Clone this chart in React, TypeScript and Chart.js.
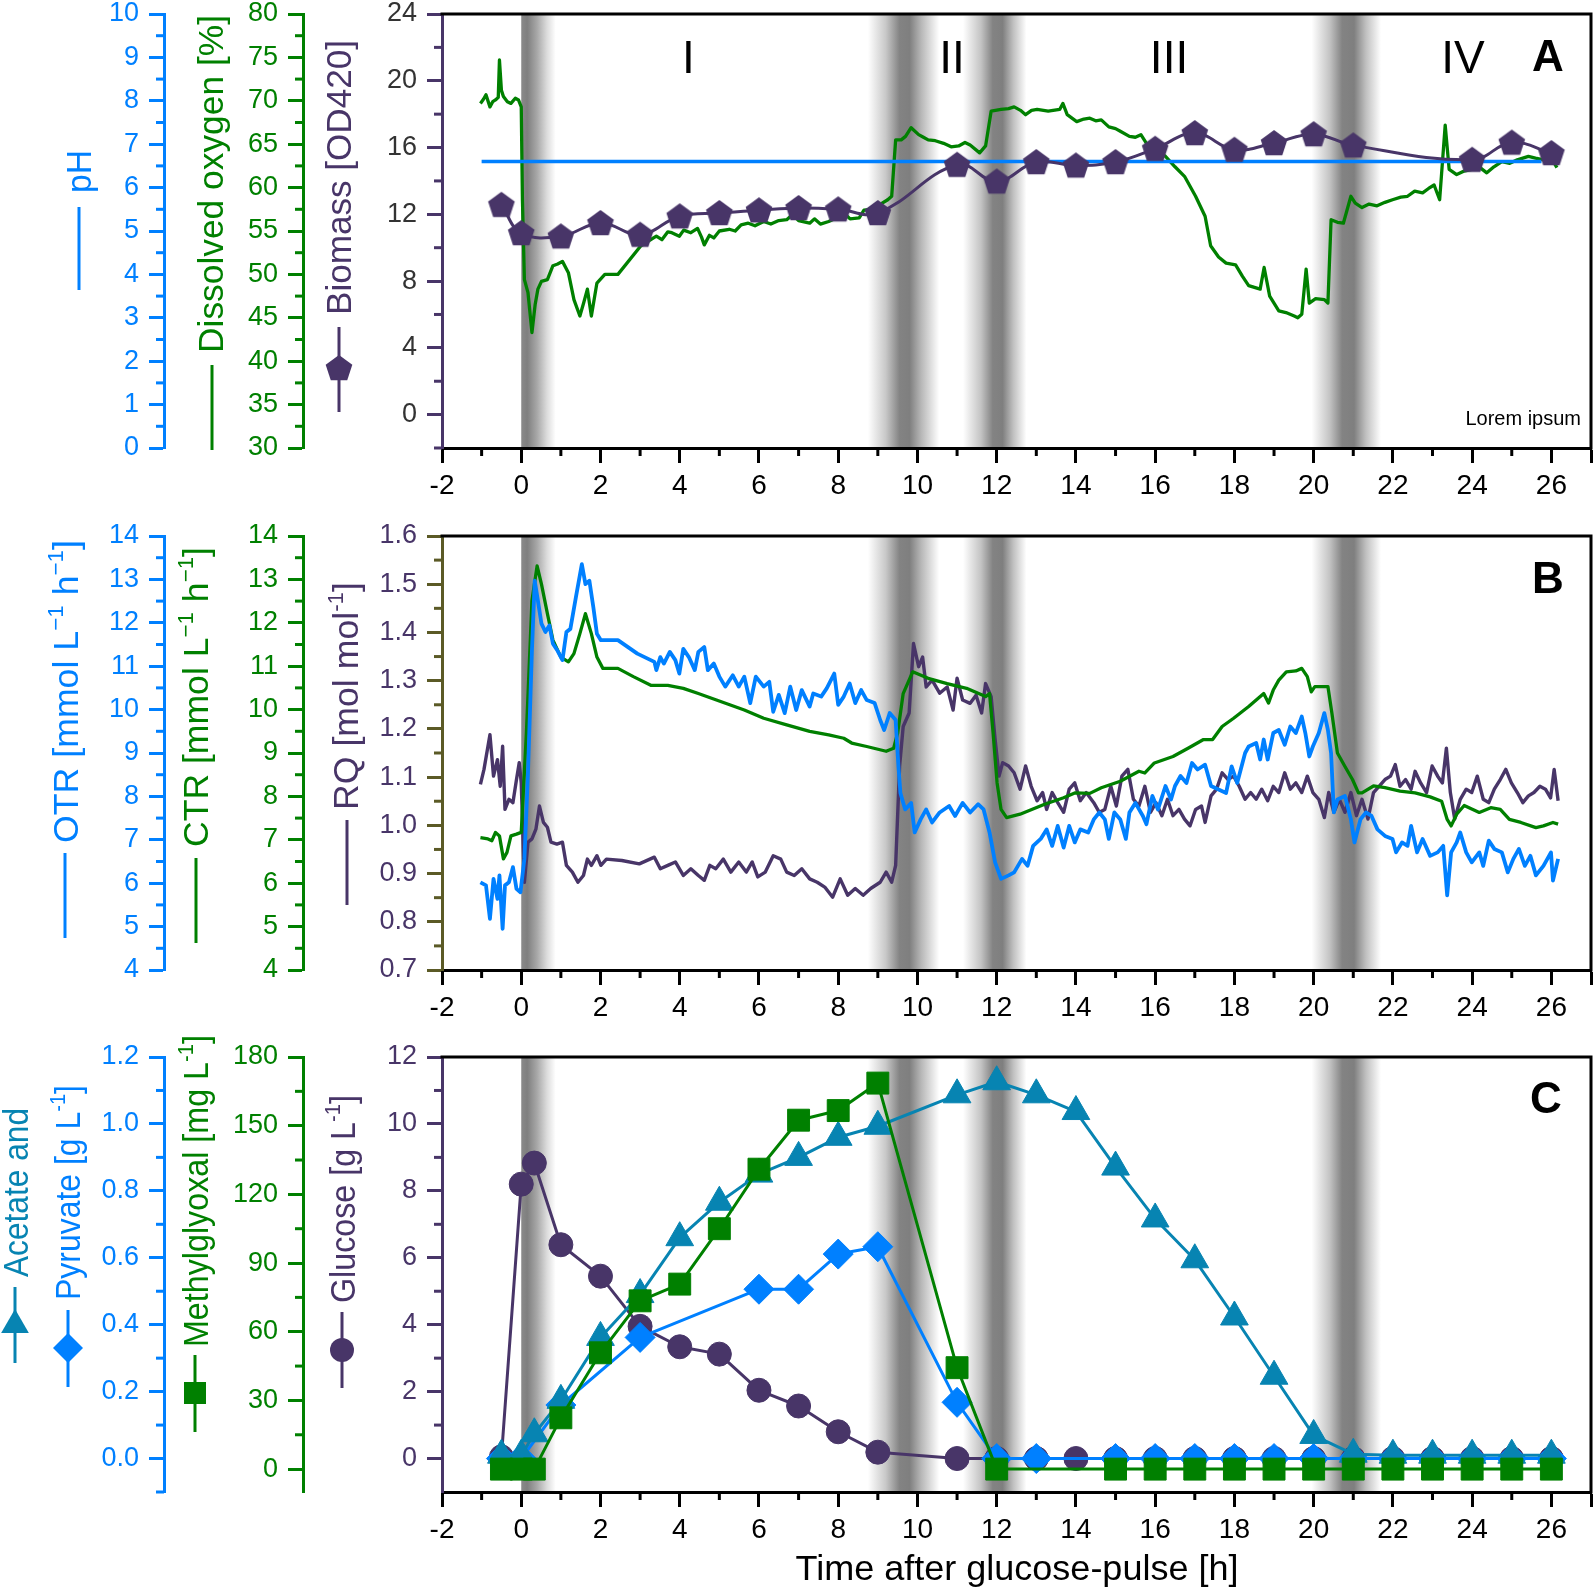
import React, { useEffect, useRef } from 'react';
import { Chart, registerables } from 'chart.js';

Chart.register(...registerables);

const FONT = '"Liberation Sans", Arial, Helvetica, sans-serif';
const BLUE = '#0080ff';
const GREEN = '#008000';
const PURPLE = '#483568';
const TEAL = '#0784b2';
const OLIVE = '#5b5a26';
const DARK = '#333333';

// ---------------- axis ticks ----------------
const timeTicks = [-2, 0, 2, 4, 6, 8, 10, 12, 14, 16, 18, 20, 22, 24, 26, 27];
const timeMinor = [-1, 1, 3, 5, 7, 9, 11, 13, 15, 17, 19, 21, 23, 25];

const phTicks = [0, 1, 2, 3, 4, 5, 6, 7, 8, 9, 10];
const phMinor = [0.5, 1.5, 2.5, 3.5, 4.5, 5.5, 6.5, 7.5, 8.5, 9.5];
const doTicks = [30, 35, 40, 45, 50, 55, 60, 65, 70, 75, 80];
const doMinor = [32.5, 37.5, 42.5, 47.5, 52.5, 57.5, 62.5, 67.5, 72.5, 77.5];
const biomassTicks = [0, 4, 8, 12, 16, 20, 24];
const biomassMinor = [-2, 2, 6, 10, 14, 18, 22];

const rateTicks = [4, 5, 6, 7, 8, 9, 10, 11, 12, 13, 14];
const rateMinor = [4.5, 5.5, 6.5, 7.5, 8.5, 9.5, 10.5, 11.5, 12.5, 13.5];
const rqTicks = [0.7, 0.8, 0.9, 1.0, 1.1, 1.2, 1.3, 1.4, 1.5, 1.6];
const rqMinor = [0.75, 0.85, 0.95, 1.05, 1.15, 1.25, 1.35, 1.45, 1.55];

const acidTicks = [0, 0.2, 0.4, 0.6, 0.8, 1.0, 1.2];
const acidMinor = [-0.1, 0.1, 0.3, 0.5, 0.7, 0.9, 1.1];
const mgTicks = [0, 30, 60, 90, 120, 150, 180];
const mgMinor = [15, 45, 75, 105, 135, 165];
const glucoseTicks = [0, 2, 4, 6, 8, 10, 12];
const glucoseMinor = [1, 3, 5, 7, 9, 11];

const phaseLabels = [['I', 4.22], ['II', 10.87], ['III', 16.35], ['IV', 23.77]];

// ---------------- Panel A data ----------------
const phSeries = [[-1.0, 6.6], [5, 6.6], [10, 6.6], [15, 6.6], [20, 6.6], [25.75, 6.6]];

const dissolvedOxygen = [
  [-1.03, 69.7], [-0.95, 70.2], [-0.89, 70.7], [-0.79, 69.3], [-0.72, 69.9], [-0.65, 70.1], [-0.58, 70.4],
  [-0.55, 74.7], [-0.5, 71.2], [-0.45, 70.5], [-0.35, 69.9], [-0.26, 69.7], [-0.15, 70.3], [-0.07, 70.1],
  [0.0, 69.3], [0.03, 58.6], [0.08, 49.4], [0.17, 47.9], [0.27, 43.3], [0.35, 46.5], [0.42, 48.3],
  [0.51, 49.2], [0.66, 49.4], [0.8, 51.0], [0.92, 51.2], [1.04, 51.5], [1.19, 50.2], [1.33, 47.1], [1.48, 45.2],
  [1.58, 46.8], [1.67, 48.3], [1.77, 45.2], [1.91, 49.0], [2.11, 50.0], [2.44, 50.0], [3.02, 53.3],
  [3.41, 54.4], [3.55, 54.0], [3.7, 54.9], [3.8, 54.8], [3.99, 54.4], [4.1, 55.1], [4.28, 54.8], [4.45, 55.3],
  [4.55, 54.3], [4.62, 53.4], [4.75, 54.5], [4.86, 54.2], [5.0, 55.0], [5.25, 55.2], [5.4, 55.0], [5.55, 55.7],
  [5.73, 55.9], [5.9, 55.6], [6.12, 56.1], [6.3, 55.8], [6.5, 56.2], [6.7, 56.3], [6.85, 56.9], [7.0, 56.2],
  [7.28, 55.9], [7.4, 56.4], [7.55, 55.8], [7.76, 56.1], [7.95, 56.5], [8.14, 57.1], [8.3, 56.4], [8.53, 56.5],
  [8.65, 57.4], [8.82, 57.5], [8.95, 57.0], [9.11, 58.2], [9.25, 58.6], [9.35, 59.0], [9.45, 65.5],
  [9.59, 65.5], [9.7, 65.9], [9.84, 66.9], [10.03, 66.1], [10.15, 65.8], [10.27, 65.5], [10.45, 65.4],
  [10.66, 65.1], [10.85, 64.7], [11.04, 64.8], [11.2, 65.2], [11.33, 64.9], [11.57, 64.0], [11.72, 64.8],
  [11.86, 68.8], [12.11, 69.0], [12.3, 69.1], [12.44, 69.3], [12.6, 68.9], [12.73, 68.4], [12.88, 68.9],
  [13.02, 69.0], [13.3, 68.8], [13.59, 69.0], [13.67, 69.7], [13.78, 68.4], [14.02, 67.6], [14.2, 67.9],
  [14.35, 68.0], [14.5, 67.7], [14.64, 67.8], [14.83, 67.0], [15.0, 66.8], [15.12, 66.5], [15.35, 65.9],
  [15.5, 65.8], [15.64, 66.1], [15.78, 65.1], [16.0, 64.5], [16.26, 63.6], [16.5, 62.4], [16.74, 61.3],
  [17.02, 59.0], [17.26, 56.7], [17.4, 53.3], [17.6, 52.0], [17.79, 51.3], [18.03, 51.1], [18.2, 49.8],
  [18.36, 48.7], [18.65, 48.3], [18.75, 50.8], [18.89, 47.5], [19.12, 45.8], [19.3, 45.6], [19.51, 45.2],
  [19.6, 45.0], [19.7, 45.4], [19.81, 50.6], [19.89, 46.7], [20.05, 47.2], [20.27, 47.1], [20.36, 46.7],
  [20.44, 56.3], [20.6, 56.0], [20.75, 55.9], [20.94, 59.0], [21.05, 58.2], [21.22, 57.7], [21.4, 58.1],
  [21.6, 57.9], [21.8, 58.3], [21.99, 58.6], [22.2, 58.9], [22.37, 59.0], [22.55, 59.6], [22.75, 59.4],
  [22.9, 59.9], [23.04, 60.3], [23.18, 58.6], [23.32, 67.2], [23.42, 62.1], [23.61, 61.5], [23.8, 61.9],
  [23.99, 62.1], [24.2, 62.3], [24.37, 61.7], [24.55, 62.4], [24.75, 63.0], [24.95, 62.8], [25.14, 63.2],
  [25.42, 63.6], [25.6, 63.4], [25.8, 63.2], [26.0, 63.4], [26.14, 62.3],
];

const biomass = [
  [-0.5, 12.57], [0, 10.88], [1, 10.68], [2, 11.48], [3, 10.78], [4, 11.88], [5, 12.08], [6, 12.24],
  [7, 12.38], [8, 12.3], [9, 12.08], [11, 14.97], [12, 13.97], [13, 15.13], [14, 14.93], [15, 15.13],
  [16, 15.93], [17, 16.87], [18, 15.87], [19, 16.27], [20, 16.8], [21, 16.13], [24, 15.27], [25, 16.3],
  [26, 15.67],
];

// ---------------- Panel B data ----------------
const otr = [
  [-1.03, 6.02], [-0.89, 5.95], [-0.79, 5.18], [-0.7, 6.1], [-0.6, 5.64], [-0.55, 6.18], [-0.47, 4.95],
  [-0.41, 5.95], [-0.31, 6.02], [-0.21, 6.37], [-0.12, 5.87], [-0.02, 5.79], [0.08, 6.56], [0.17, 8.54],
  [0.27, 11.37], [0.34, 12.97], [0.42, 12.51], [0.51, 11.98], [0.61, 11.79], [0.71, 11.94], [0.8, 11.52],
  [0.92, 11.35], [1.04, 11.14], [1.14, 11.79], [1.24, 11.86], [1.38, 12.59], [1.53, 13.35], [1.62, 12.89],
  [1.72, 12.97], [1.82, 12.36], [1.91, 11.75], [2.01, 11.6], [2.15, 11.6], [2.44, 11.6], [2.93, 11.29],
  [3.36, 11.1], [3.41, 10.91], [3.51, 11.21], [3.6, 11.06], [3.75, 11.33], [3.89, 11.14], [3.99, 10.83],
  [4.09, 11.4], [4.23, 11.21], [4.38, 10.91], [4.47, 11.33], [4.62, 11.44], [4.71, 10.91], [4.86, 11.06],
  [5.0, 10.76], [5.15, 10.53], [5.34, 10.79], [5.49, 10.53], [5.63, 10.76], [5.78, 10.15], [5.92, 10.76],
  [6.12, 10.53], [6.26, 10.64], [6.36, 9.95], [6.5, 10.34], [6.65, 9.92], [6.79, 10.53], [6.94, 9.99],
  [7.08, 10.45], [7.28, 10.07], [7.37, 10.37], [7.57, 10.3], [7.71, 10.49], [7.9, 10.83], [8.0, 10.11],
  [8.14, 10.3], [8.29, 10.6], [8.43, 10.15], [8.58, 10.45], [8.72, 10.22], [8.92, 10.15], [9.06, 9.76],
  [9.16, 9.53], [9.3, 9.92], [9.45, 9.76], [9.52, 8.69], [9.57, 8.08], [9.69, 7.7], [9.84, 7.85],
  [9.93, 7.17], [10.08, 7.47], [10.22, 7.7], [10.37, 7.4], [10.56, 7.63], [10.8, 7.78], [10.95, 7.55],
  [11.14, 7.85], [11.33, 7.63], [11.53, 7.82], [11.67, 7.7], [11.82, 7.17], [11.96, 6.48], [12.11, 6.1],
  [12.3, 6.18], [12.44, 6.25], [12.64, 6.56], [12.78, 6.4], [12.92, 6.86], [13.11, 7.02], [13.26, 7.24],
  [13.4, 6.86], [13.54, 7.32], [13.69, 6.82], [13.83, 7.32], [13.97, 6.94], [14.11, 7.24], [14.31, 7.17],
  [14.45, 7.47], [14.59, 7.63], [14.73, 7.47], [14.83, 7.02], [14.97, 7.63], [15.12, 7.47], [15.26, 7.02],
  [15.35, 7.63], [15.5, 7.85], [15.69, 7.55], [15.78, 7.36], [15.93, 8.01], [16.07, 7.7], [16.26, 8.24],
  [16.4, 7.93], [16.5, 8.24], [16.64, 8.47], [16.79, 8.31], [16.93, 8.77], [17.07, 8.62], [17.26, 8.73],
  [17.41, 8.24], [17.6, 8.16], [17.79, 8.08], [17.93, 8.69], [18.07, 8.31], [18.27, 9.0], [18.36, 9.15],
  [18.55, 9.23], [18.65, 8.85], [18.74, 9.31], [18.84, 8.85], [18.98, 9.46], [19.12, 9.53], [19.27, 9.19],
  [19.41, 9.61], [19.55, 9.46], [19.7, 9.84], [19.79, 9.46], [19.89, 8.92], [19.98, 9.15], [20.13, 9.46],
  [20.27, 9.92], [20.36, 9.53], [20.44, 9.0], [20.51, 7.63], [20.6, 7.93], [20.79, 8.01], [20.94, 7.47],
  [21.03, 6.94], [21.18, 7.47], [21.32, 7.63], [21.46, 7.55], [21.61, 7.24], [21.8, 7.09], [21.99, 7.02],
  [22.08, 6.71], [22.23, 6.94], [22.37, 6.86], [22.46, 7.32], [22.61, 6.71], [22.75, 7.02], [22.94, 6.63],
  [23.13, 6.71], [23.27, 6.86], [23.37, 5.72], [23.47, 6.71], [23.61, 6.94], [23.7, 7.17], [23.85, 6.71],
  [23.99, 6.48], [24.18, 6.71], [24.28, 6.4], [24.42, 6.98], [24.56, 6.79], [24.75, 6.71], [24.9, 6.25],
  [25.04, 6.56], [25.18, 6.79], [25.33, 6.4], [25.47, 6.63], [25.61, 6.18], [25.8, 6.4], [25.99, 6.71],
  [26.04, 6.06], [26.17, 6.56],
];

const ctr = [
  [-1.03, 7.05], [-0.84, 7.02], [-0.74, 6.98], [-0.65, 7.17], [-0.55, 7.09], [-0.45, 6.56], [-0.36, 6.71],
  [-0.26, 7.09], [-0.12, 7.13], [0, 7.17], [0.13, 9.46], [0.27, 12.51], [0.4, 13.31], [0.51, 12.89],
  [0.66, 12.21], [0.8, 11.6], [1.0, 11.21], [1.19, 11.1], [1.33, 11.29], [1.48, 11.75], [1.62, 12.21],
  [1.77, 11.75], [1.91, 11.21], [2.06, 10.95], [2.44, 10.95], [2.83, 10.76], [3.27, 10.56], [3.7, 10.56],
  [4.09, 10.49], [4.47, 10.37], [5.05, 10.18], [5.63, 9.99], [6.12, 9.8], [6.7, 9.65], [7.28, 9.5],
  [7.76, 9.42], [8.14, 9.34], [8.34, 9.23], [8.72, 9.15], [9.21, 9.04], [9.4, 9.11], [9.5, 9.46],
  [9.64, 10.37], [9.88, 10.87], [10.27, 10.72], [10.75, 10.6], [11.24, 10.49], [11.72, 10.3], [11.82, 10.37],
  [11.91, 9.46], [12.01, 8.31], [12.11, 7.7], [12.25, 7.51], [12.59, 7.59], [13.21, 7.82], [13.69, 7.97],
  [13.97, 8.08], [14.35, 8.07], [14.64, 8.2], [15.12, 8.35], [15.59, 8.58], [15.74, 8.54], [15.98, 8.77],
  [16.45, 8.92], [16.83, 9.11], [17.22, 9.31], [17.45, 9.31], [17.69, 9.61], [17.98, 9.8], [18.36, 10.07],
  [18.74, 10.37], [18.86, 10.15], [18.98, 10.45], [19.12, 10.68], [19.31, 10.87], [19.55, 10.89], [19.7, 10.95],
  [19.84, 10.76], [19.94, 10.41], [20.03, 10.53], [20.36, 10.53], [20.46, 9.92], [20.6, 9.0], [20.79, 8.69],
  [20.98, 8.39], [21.13, 8.08], [21.22, 8.08], [21.51, 8.24], [21.8, 8.2], [22.18, 8.12], [22.56, 8.08],
  [22.94, 7.99], [23.23, 7.89], [23.37, 7.47], [23.47, 7.32], [23.61, 7.59], [23.8, 7.79], [24.18, 7.63],
  [24.47, 7.74], [24.71, 7.7], [24.94, 7.47], [25.23, 7.4], [25.61, 7.28], [25.8, 7.32], [26.04, 7.4],
  [26.17, 7.36],
];

const rq = [
  [-1.03, 1.085], [-0.94, 1.116], [-0.84, 1.164], [-0.79, 1.188], [-0.7, 1.102], [-0.6, 1.136], [-0.53, 1.081],
  [-0.47, 1.164], [-0.41, 1.033], [-0.31, 1.054], [-0.21, 1.047], [-0.12, 1.095], [-0.05, 1.13], [0.0, 1.088],
  [0.08, 0.882], [0.17, 0.965], [0.27, 0.972], [0.37, 0.992], [0.46, 1.04], [0.56, 1.006], [0.66, 0.996],
  [0.75, 0.965], [0.9, 0.961], [1.04, 0.965], [1.14, 0.917], [1.29, 0.903], [1.43, 0.882], [1.57, 0.896],
  [1.67, 0.93], [1.77, 0.917], [1.91, 0.937], [2.01, 0.917], [2.15, 0.93], [2.54, 0.927], [2.98, 0.92],
  [3.36, 0.934], [3.51, 0.91], [3.7, 0.917], [3.89, 0.924], [4.09, 0.896], [4.28, 0.91], [4.47, 0.896],
  [4.62, 0.886], [4.76, 0.917], [4.91, 0.91], [5.1, 0.93], [5.29, 0.903], [5.49, 0.924], [5.68, 0.903],
  [5.83, 0.924], [5.97, 0.893], [6.16, 0.903], [6.36, 0.937], [6.55, 0.93], [6.7, 0.903], [6.89, 0.896],
  [7.08, 0.91], [7.28, 0.889], [7.47, 0.882], [7.66, 0.872], [7.86, 0.851], [8.05, 0.889], [8.24, 0.855],
  [8.43, 0.869], [8.63, 0.855], [8.82, 0.869], [9.06, 0.882], [9.21, 0.903], [9.35, 0.882], [9.45, 0.917],
  [9.55, 1.123], [9.64, 1.205], [9.79, 1.233], [9.9, 1.377], [10.03, 1.329], [10.13, 1.349], [10.22, 1.287],
  [10.37, 1.301], [10.56, 1.274], [10.75, 1.287], [10.9, 1.239], [11.0, 1.305], [11.14, 1.26], [11.33, 1.253],
  [11.48, 1.27], [11.62, 1.233], [11.72, 1.294], [11.86, 1.267], [11.96, 1.178], [12.06, 1.102], [12.15, 1.13],
  [12.3, 1.123], [12.44, 1.109], [12.59, 1.075], [12.73, 1.123], [12.87, 1.081], [13.02, 1.051], [13.16, 1.068],
  [13.26, 1.033], [13.4, 1.068], [13.54, 1.047], [13.69, 1.027], [13.83, 1.075], [13.97, 1.088], [14.11, 1.051],
  [14.26, 1.068], [14.45, 1.047], [14.59, 1.027], [14.73, 1.033], [14.88, 1.081], [15.02, 1.04], [15.16, 1.102],
  [15.31, 1.116], [15.45, 1.054], [15.59, 1.04], [15.74, 1.081], [15.88, 1.027], [16.02, 1.047], [16.17, 1.02],
  [16.31, 1.054], [16.45, 1.02], [16.6, 1.033], [16.74, 1.013], [16.88, 0.999], [17.02, 1.033], [17.17, 1.04],
  [17.26, 1.006], [17.41, 1.061], [17.55, 1.075], [17.69, 1.109], [17.84, 1.095], [17.98, 1.102], [18.12, 1.081],
  [18.27, 1.054], [18.41, 1.068], [18.55, 1.054], [18.69, 1.075], [18.84, 1.051], [18.98, 1.081], [19.12, 1.068],
  [19.27, 1.109], [19.41, 1.075], [19.55, 1.088], [19.7, 1.068], [19.84, 1.102], [19.98, 1.068], [20.13, 1.054],
  [20.27, 1.016], [20.38, 1.068], [20.51, 1.027], [20.65, 1.054], [20.79, 1.027], [20.94, 1.068], [21.08, 1.02],
  [21.22, 1.054], [21.37, 1.013], [21.51, 1.068], [21.65, 1.081], [21.8, 1.095], [21.94, 1.102], [22.06, 1.126],
  [22.18, 1.081], [22.32, 1.095], [22.46, 1.075], [22.56, 1.112], [22.7, 1.088], [22.85, 1.068], [22.99, 1.123],
  [23.13, 1.102], [23.25, 1.088], [23.35, 1.16], [23.45, 1.068], [23.56, 1.013], [23.7, 1.054], [23.85, 1.075],
  [23.99, 1.068], [24.13, 1.102], [24.28, 1.054], [24.42, 1.047], [24.56, 1.075], [24.71, 1.095], [24.85, 1.116],
  [24.99, 1.088], [25.14, 1.068], [25.28, 1.047], [25.42, 1.061], [25.56, 1.068], [25.71, 1.081], [25.85, 1.075],
  [25.98, 1.057], [26.07, 1.116], [26.17, 1.051],
];

// ---------------- Panel C data ----------------
const glucose = [
  [-0.5, 0.05], [0, 8.2], [0.33, 8.83], [1, 6.39], [2, 5.45], [3, 3.95], [4, 3.34], [5, 3.12], [6, 2.04],
  [7, 1.57], [8, 0.8], [9, 0.19], [11, 0.0], [12, 0], [13, 0], [14, 0], [15, 0], [16, 0], [17, 0], [18, 0],
  [19, 0], [20, 0], [21, 0], [22, 0], [23, 0], [24, 0], [25, 0], [26, 0],
];
const acetate = [
  [-0.5, 0.01], [0, 0.01], [0.33, 0.074], [1, 0.174], [2, 0.362], [3, 0.49], [4, 0.66], [5, 0.766],
  [6, 0.85], [7, 0.9], [8, 0.96], [9, 0.993], [11, 1.087], [12, 1.126], [13, 1.087], [14, 1.037],
  [15, 0.871], [16, 0.716], [17, 0.594], [18, 0.423], [19, 0.246], [20, 0.069], [21, 0.013], [22, 0.01],
  [23, 0.01], [24, 0.01], [25, 0.01], [26, 0.01],
];
const pyruvate = [
  [-0.5, 0], [0, 0], [1, 0.16], [3, 0.362], [6, 0.506], [7, 0.506], [8, 0.611], [9, 0.633], [11, 0.168],
  [12, 0], [13, 0], [15, 0], [16, 0], [17, 0], [18, 0], [19, 0], [20, 0], [21, 0], [22, 0], [23, 0],
  [24, 0], [25, 0], [26, 0],
];
const methylglyoxal = [
  [-0.5, 0], [0, 0], [0.33, 0], [1, 22.4], [2, 50.8], [3, 73.5], [4, 80.8], [5, 105], [6, 131], [7, 152.4],
  [8, 156.6], [9, 168.6], [11, 44.3], [12, 0], [15, 0], [16, 0], [17, 0], [18, 0], [19, 0], [20, 0],
  [21, 0], [22, 0], [23, 0], [24, 0], [25, 0], [26, 0],
];

// ---------------- shading bands (time, gray) ----------------
const BANDS = [
  [[0, '#8a8a8a'], [0.15, '#7f7f7f'], [0.4, '#a8a8a8'], [0.65, '#dcdcdc'], [0.87, '#ffffff']],
  [[8.75, '#ffffff'], [9.2, '#c8c8c8'], [9.55, '#838383'], [9.8, '#7f7f7f'], [10.1, '#b8b8b8'], [10.55, '#ffffff']],
  [[11.15, '#ffffff'], [11.6, '#c4c4c4'], [11.9, '#838383'], [12.15, '#7f7f7f'], [12.42, '#c0c0c0'], [12.75, '#ffffff']],
  [[19.95, '#ffffff'], [20.4, '#c4c4c4'], [20.72, '#838383'], [21.02, '#7f7f7f'], [21.32, '#c0c0c0'], [21.7, '#ffffff']],
];

// ---------------- helpers ----------------
function pentagonPath(ctx, cx, cy, r) {
  ctx.beginPath();
  for (let i = 0; i < 5; i++) {
    const a = -Math.PI / 2 + (i * 2 * Math.PI) / 5;
    const px = cx + r * Math.cos(a);
    const py = cy + r * Math.sin(a);
    if (i === 0) ctx.moveTo(px, py);
    else ctx.lineTo(px, py);
  }
  ctx.closePath();
}

function makePentagon() {
  const c = document.createElement('canvas');
  c.width = 30;
  c.height = 30;
  const g = c.getContext('2d');
  g.fillStyle = PURPLE;
  pentagonPath(g, 15, 16, 14);
  g.fill();
  return c;
}

function drawMarker(ctx, kind, x, y, color) {
  ctx.save();
  ctx.fillStyle = color;
  if (kind === 'pentagon') {
    pentagonPath(ctx, x, y + 1, 14);
  } else if (kind === 'triangle') {
    const r = 16;
    ctx.beginPath();
    ctx.moveTo(x, y - r);
    ctx.lineTo(x + 0.866 * r, y + 0.5 * r);
    ctx.lineTo(x - 0.866 * r, y + 0.5 * r);
    ctx.closePath();
  } else if (kind === 'diamond') {
    const r = 15;
    ctx.beginPath();
    ctx.moveTo(x - r, y);
    ctx.lineTo(x, y - r);
    ctx.lineTo(x + r, y);
    ctx.lineTo(x, y + r);
    ctx.closePath();
  } else if (kind === 'square') {
    ctx.beginPath();
    ctx.rect(x - 11, y - 11, 22, 22);
  } else {
    ctx.beginPath();
    ctx.arc(x, y, 12, 0, Math.PI * 2);
  }
  ctx.fill();
  ctx.restore();
}

function drawVTitle(ctx, spec, offY) {
  const main = `35px ${FONT}`;
  const sup = `22px ${FONT}`;
  ctx.save();
  ctx.fillStyle = spec.color;
  ctx.textBaseline = 'alphabetic';
  ctx.textAlign = 'left';
  let total = 0;
  const widths = spec.parts.map((p) => {
    ctx.font = p.sup ? sup : main;
    const w = ctx.measureText(p.t).width;
    total += w;
    return w;
  });
  const k = (spec.y0 - spec.y1) / total;
  ctx.translate(spec.bx, spec.y0 - offY);
  ctx.rotate(-Math.PI / 2);
  ctx.scale(k, 1);
  let cur = 0;
  spec.parts.forEach((p, i) => {
    ctx.font = p.sup ? sup : main;
    ctx.fillText(p.t, cur, p.sup ? -15 : 0);
    cur += widths[i];
  });
  ctx.restore();

  ctx.save();
  ctx.strokeStyle = spec.color;
  ctx.lineWidth = 3;
  ctx.beginPath();
  ctx.moveTo(spec.sx, spec.s0 - offY);
  ctx.lineTo(spec.sx, spec.s1 - offY);
  ctx.stroke();
  ctx.restore();
  if (spec.marker) drawMarker(ctx, spec.marker, spec.sx, spec.my - offY, spec.color);
}

function makeDecor(cfg) {
  return {
    id: 'decor_' + cfg.name,
    beforeDraw(chart) {
      const { ctx, chartArea: ca } = chart;
      const xs = chart.scales.x;
      ctx.save();
      ctx.fillStyle = '#ffffff';
      ctx.fillRect(0, 0, chart.width, chart.height);
      ctx.beginPath();
      ctx.rect(ca.left, ca.top, ca.right - ca.left, ca.bottom - ca.top);
      ctx.clip();
      for (const band of BANDS) {
        const x0 = xs.getPixelForValue(band[0][0]);
        const x1 = xs.getPixelForValue(band[band.length - 1][0]);
        const g = ctx.createLinearGradient(x0, 0, x1, 0);
        for (const [t, c] of band) g.addColorStop((xs.getPixelForValue(t) - x0) / (x1 - x0), c);
        ctx.fillStyle = g;
        ctx.fillRect(x0, ca.top, x1 - x0, ca.bottom - ca.top);
      }
      ctx.restore();
    },
    afterDraw(chart) {
      const { ctx, chartArea: ca } = chart;
      const off = cfg.top;
      ctx.save();
      ctx.strokeStyle = '#000';
      ctx.lineWidth = 3;
      ctx.beginPath();
      ctx.moveTo(ca.left - 1.5, ca.top);
      ctx.lineTo(ca.right, ca.top);
      ctx.lineTo(ca.right, ca.bottom + 1.5);
      ctx.stroke();
      for (const m of cfg.minor) {
        const s = chart.scales[m.id];
        ctx.strokeStyle = m.color;
        ctx.lineWidth = 3;
        for (const v of m.values) {
          ctx.beginPath();
          if (m.id === 'x') {
            const px = s.getPixelForValue(v);
            ctx.moveTo(px, s.top);
            ctx.lineTo(px, s.top + 8);
          } else {
            const py = s.getPixelForValue(v);
            ctx.moveTo(s.right - 8, py);
            ctx.lineTo(s.right, py);
          }
          ctx.stroke();
        }
      }
      ctx.restore();
      for (const t of cfg.titles) drawVTitle(ctx, t, off);
      ctx.save();
      for (const t of cfg.texts) {
        ctx.font = t.font;
        ctx.fillStyle = t.color || '#000';
        ctx.textAlign = t.align || 'center';
        ctx.textBaseline = 'alphabetic';
        let x = t.x;
        if (t.tx !== undefined) x = chart.scales.x.getPixelForValue(t.tx);
        if (t.w) {
          const w = ctx.measureText(t.t).width;
          ctx.save();
          ctx.translate(x, t.y - off);
          ctx.scale(t.w / w, 1);
          ctx.fillText(t.t, 0, 0);
          ctx.restore();
        } else {
          ctx.fillText(t.t, x, t.y - off);
        }
      }
      ctx.restore();
    },
  };
}

function xAxis(height) {
  return {
    type: 'linear',
    position: 'bottom',
    min: -2,
    max: 27,
    afterBuildTicks: (s) => {
      s.ticks = timeTicks.map((v) => ({ value: v }));
    },
    afterFit: (s) => {
      s.height = height;
      s.paddingLeft = 0;
      s.paddingRight = 0;
    },
    ticks: {
      color: '#000',
      font: { family: FONT, size: 28 },
      padding: 6,
      maxRotation: 0,
      minRotation: 0,
      autoSkip: false,
      callback: (v) => (v === 27 ? '' : String(v)),
    },
    grid: { drawOnChartArea: false, drawTicks: true, tickLength: 15, tickWidth: 3, tickColor: '#000' },
    border: { display: true, color: '#000', width: 3 },
  };
}

function yAxis(o) {
  return {
    type: 'linear',
    position: 'left',
    weight: o.weight,
    min: o.min,
    max: o.max,
    afterBuildTicks: (s) => {
      s.ticks = o.ticks.map((v) => ({ value: v }));
    },
    afterFit: (s) => {
      s.width = o.width;
      s.paddingTop = 0;
      s.paddingBottom = 0;
    },
    ticks: {
      color: o.label,
      font: { family: FONT, size: 27 },
      padding: 10,
      autoSkip: false,
      callback: o.fmt || ((v) => String(v)),
    },
    grid: { drawOnChartArea: false, drawTicks: true, tickLength: 15, tickWidth: 3, tickColor: o.color },
    border: { display: true, color: o.color, width: 3 },
  };
}

function series(data, axis, color, extra) {
  return Object.assign(
    {
      data: data.map(([x, y]) => ({ x, y })),
      yAxisID: axis,
      borderColor: color,
      backgroundColor: color,
      borderWidth: 3,
      pointRadius: 0,
      tension: 0,
      borderJoinStyle: 'round',
    },
    extra || {}
  );
}

function baseOptions(padTop, xHeight, yScales) {
  return {
    responsive: false,
    animation: false,
    devicePixelRatio: 1,
    events: [],
    layout: { autoPadding: false, padding: { left: 0, right: 3, top: padTop, bottom: 0 } },
    plugins: { legend: { display: false }, tooltip: { enabled: false } },
    scales: Object.assign({ x: xAxis(xHeight) }, yScales),
  };
}

const fmt1 = (v) => Number(v).toFixed(1);

function configA(pent) {
  return {
    type: 'line',
    data: {
      datasets: [
        series(biomass, 'bm', PURPLE, { pointStyle: pent, pointRadius: 14, tension: 0.4 }),
        series(phSeries, 'ph', BLUE, { borderWidth: 3.4 }),
        series(dissolvedOxygen, 'do', GREEN, { borderWidth: 3.3 }),
      ],
    },
    options: baseOptions(14, 62, {
      ph: yAxis({ weight: 3, min: 0, max: 10, ticks: phTicks, width: 164, color: BLUE, label: BLUE }),
      do: yAxis({ weight: 2, min: 30, max: 80, ticks: doTicks, width: 139, color: GREEN, label: GREEN }),
      bm: yAxis({ weight: 1, min: -2, max: 24, ticks: biomassTicks, width: 139, color: PURPLE, label: DARK }),
    }),
    plugins: [
      makeDecor({
        name: 'A',
        top: 0,
        minor: [
          { id: 'x', values: timeMinor, color: '#000' },
          { id: 'ph', values: phMinor, color: BLUE },
          { id: 'do', values: doMinor, color: GREEN },
          { id: 'bm', values: biomassMinor, color: PURPLE },
        ],
        titles: [
          { parts: [{ t: 'pH' }], color: BLUE, bx: 91, y0: 193, y1: 150, sx: 79, s0: 290, s1: 207 },
          { parts: [{ t: 'Dissolved oxygen [%]' }], color: GREEN, bx: 223, y0: 353, y1: 15, sx: 212, s0: 450, s1: 365 },
          {
            parts: [{ t: 'Biomass [OD420]' }], color: PURPLE, bx: 351, y0: 315, y1: 40, sx: 339, s0: 412, s1: 327,
            marker: 'pentagon', my: 368,
          },
        ],
        texts: phaseLabels
          .map(([t, tx]) => ({ t, tx, y: 73, font: `46px ${FONT}` }))
          .concat([
            { t: 'A', x: 1548, y: 71, font: `bold 44px ${FONT}` },
            { t: 'Lorem ipsum', x: 1581, y: 425, font: `20px ${FONT}`, align: 'right' },
          ]),
      }),
    ],
  };
}

function configB() {
  return {
    type: 'line',
    data: {
      datasets: [
        series(otr, 'otr', BLUE, { borderWidth: 3.8 }),
        series(ctr, 'ctr', GREEN, { borderWidth: 3.3 }),
        series(rq, 'rq', PURPLE, { borderWidth: 3.4 }),
      ],
    },
    options: baseOptions(26, 50, {
      otr: yAxis({ weight: 3, min: 4, max: 14, ticks: rateTicks, width: 164, color: BLUE, label: BLUE }),
      ctr: yAxis({ weight: 2, min: 4, max: 14, ticks: rateTicks, width: 139, color: GREEN, label: GREEN }),
      rq: yAxis({ weight: 1, min: 0.7, max: 1.6, ticks: rqTicks, width: 139, color: OLIVE, label: PURPLE, fmt: fmt1 }),
    }),
    plugins: [
      makeDecor({
        name: 'B',
        top: 510,
        minor: [
          { id: 'x', values: timeMinor, color: '#000' },
          { id: 'otr', values: rateMinor, color: BLUE },
          { id: 'ctr', values: rateMinor, color: GREEN },
          { id: 'rq', values: rqMinor, color: OLIVE },
        ],
        titles: [
          {
            parts: [{ t: 'OTR [mmol L' }, { t: '\u22121', sup: true }, { t: ' h' }, { t: '\u22121', sup: true }, { t: ']' }],
            color: BLUE, bx: 78, y0: 843, y1: 540, sx: 65, s0: 938, s1: 853,
          },
          {
            parts: [{ t: 'CTR [mmol L' }, { t: '\u22121', sup: true }, { t: ' h' }, { t: '\u22121', sup: true }, { t: ']' }],
            color: GREEN, bx: 208, y0: 847, y1: 547, sx: 196, s0: 943, s1: 858,
          },
          {
            parts: [{ t: 'RQ [mol mol' }, { t: '-1', sup: true }, { t: ']' }],
            color: PURPLE, bx: 358, y0: 810, y1: 582, sx: 347, s0: 905, s1: 820,
          },
        ],
        texts: [{ t: 'B', x: 1548, y: 593, font: `bold 44px ${FONT}` }],
      }),
    ],
  };
}

function configC() {
  return {
    type: 'line',
    data: {
      datasets: [
        series(methylglyoxal, 'mg', GREEN, { pointStyle: 'rect', pointRadius: 15.5, pointBorderWidth: 1 }),
        series(acetate, 'acid', TEAL, { pointStyle: 'triangle', pointRadius: 16, pointBorderWidth: 1 }),
        series(pyruvate, 'acid', BLUE, { pointStyle: 'rectRot', pointRadius: 15, pointBorderWidth: 1 }),
        series(glucose, 'glc', PURPLE, { pointStyle: 'circle', pointRadius: 12, pointBorderWidth: 1 }),
      ],
    },
    options: baseOptions(37, 99, {
      acid: yAxis({ weight: 3, min: -0.1, max: 1.2, ticks: acidTicks, width: 164, color: BLUE, label: BLUE, fmt: fmt1 }),
      mg: yAxis({ weight: 2, min: -10, max: 180, ticks: mgTicks, width: 139, color: GREEN, label: GREEN }),
      glc: yAxis({ weight: 1, min: -1, max: 12, ticks: glucoseTicks, width: 139, color: PURPLE, label: PURPLE }),
    }),
    plugins: [
      makeDecor({
        name: 'C',
        top: 1020,
        minor: [
          { id: 'x', values: timeMinor, color: '#000' },
          { id: 'acid', values: acidMinor, color: BLUE },
          { id: 'mg', values: mgMinor, color: GREEN },
          { id: 'glc', values: glucoseMinor, color: PURPLE },
        ],
        titles: [
          {
            parts: [{ t: 'Acetate and' }], color: TEAL, bx: 28, y0: 1277, y1: 1108, sx: 15, s0: 1363, s1: 1287,
            marker: 'triangle', my: 1325,
          },
          {
            parts: [{ t: 'Pyruvate [g L' }, { t: '-1', sup: true }, { t: ']' }],
            color: BLUE, bx: 80, y0: 1300, y1: 1085, sx: 68, s0: 1387, s1: 1310, marker: 'diamond', my: 1348,
          },
          {
            parts: [{ t: 'Methylglyoxal [mg L' }, { t: '-1', sup: true }, { t: ']' }],
            color: GREEN, bx: 208, y0: 1347, y1: 1035, sx: 195, s0: 1432, s1: 1355, marker: 'square', my: 1393,
          },
          {
            parts: [{ t: 'Glucose [g L' }, { t: '-1', sup: true }, { t: ']' }],
            color: PURPLE, bx: 355, y0: 1303, y1: 1095, sx: 342, s0: 1388, s1: 1312, marker: 'circle', my: 1350,
          },
        ],
        texts: [
          { t: 'C', x: 1546, y: 1113, font: `bold 44px ${FONT}` },
          { t: 'Time after glucose-pulse [h]', x: 1017, y: 1580, font: `35px ${FONT}`, w: 443 },
        ],
      }),
    ],
  };
}

export default function App() {
  const refA = useRef(null);
  const refB = useRef(null);
  const refC = useRef(null);

  useEffect(() => {
    const pent = makePentagon();
    const charts = [
      new Chart(refA.current, configA(pent)),
      new Chart(refB.current, configB()),
      new Chart(refC.current, configC()),
    ];
    return () => charts.forEach((c) => c.destroy());
  }, []);

  return (
    <div style={{ position: 'absolute', left: 0, top: 0, width: 1594, height: 1591, background: '#fff' }}>
      <canvas ref={refA} width={1594} height={510} style={{ position: 'absolute', left: 0, top: 0 }} />
      <canvas ref={refB} width={1594} height={510} style={{ position: 'absolute', left: 0, top: 510 }} />
      <canvas ref={refC} width={1594} height={571} style={{ position: 'absolute', left: 0, top: 1020 }} />
    </div>
  );
}
